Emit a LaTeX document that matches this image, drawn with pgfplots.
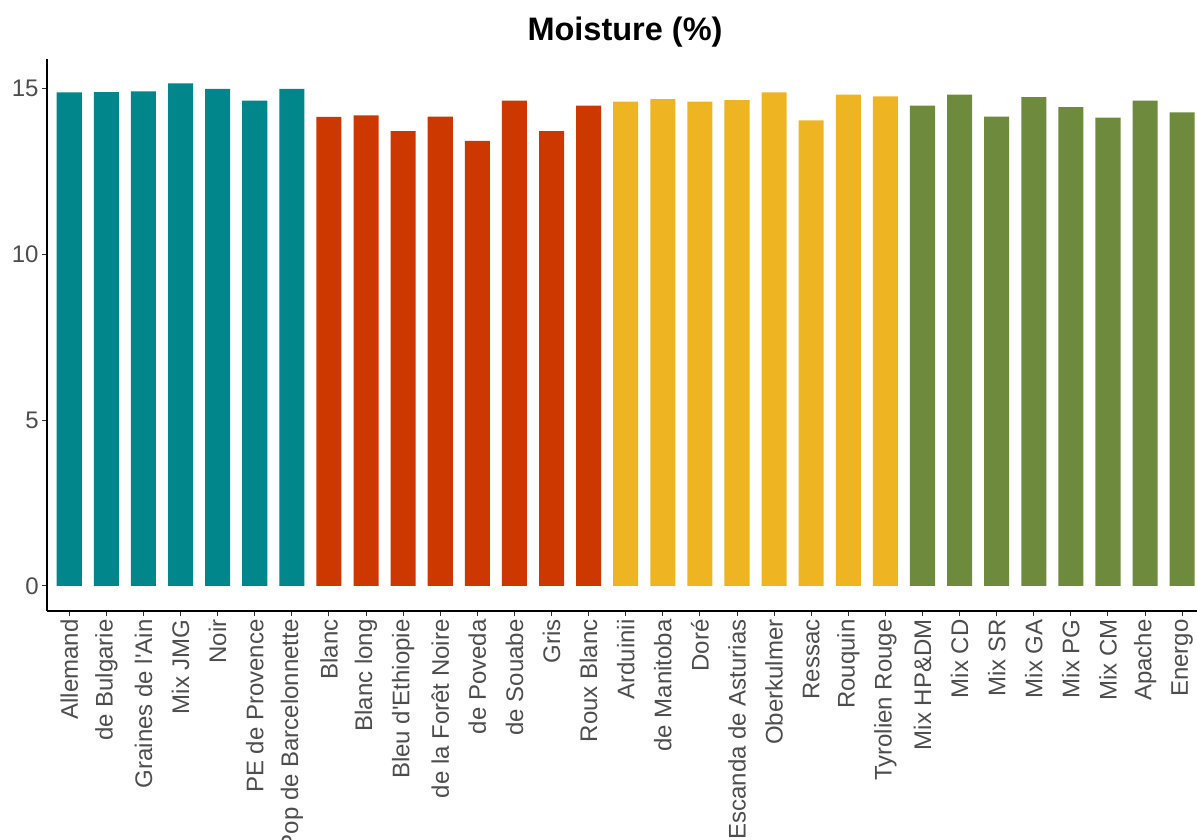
\documentclass[border=0pt]{standalone}
\usepackage{pgfplots}
\pgfplotsset{compat=1.18}
\usepackage{fontspec}
\setmainfont{Liberation Sans}

\definecolor{cteal}{HTML}{00868B}
\definecolor{cred}{HTML}{CD3700}
\definecolor{cyel}{HTML}{EEB422}
\definecolor{cgreen}{HTML}{6E8B3D}
\definecolor{txtgrey}{HTML}{4D4D4D}

\begin{document}
\begin{tikzpicture}
% 1 px of the reference = 0.5pt; axis lower left at px (47,611)
\path[use as bounding box] (-23.5pt,-114pt) rectangle (575pt,305.5pt);
\begin{axis}[
    scale only axis,
    width=575pt, height=276.2pt,
    at={(0,0)}, anchor=south west,
    xmin=-0.6, xmax=30.4,
    ymin=-0.754, ymax=15.9,
    axis x line=bottom, axis y line=left,
    axis line style={-, black, line width=0.6pt},
    ybar, bar shift=0pt, bar width=0.675,
    xtick={0,...,30},
    xticklabels={Allemand, de Bulgarie, Graines de l\textquotesingle Ain, Mix JMG, Noir, PE de Provence, Pop de Barcelonnette,
      Blanc, Blanc long, Bleu d\textquotesingle Ethiopie, de la Forêt Noire, de Poveda, de Souabe, Gris, Roux Blanc,
      Arduinii, de Manitoba, Doré, Escanda de Asturias, Oberkulmer, Ressac, Rouquin, Tyrolien Rouge,
      Mix HP\&DM, Mix CD, Mix SR, Mix GA, Mix PG, Mix CM, Apache, Energo},
    ytick={0,5,10,15},
    tick align=outside,
    major tick length=2.5pt,
    tick style={black!80, line width=0.5pt},
    xticklabel style={rotate=90, anchor=east, font=\fontsize{12}{14}\selectfont, text=txtgrey, inner sep=1.5pt},
    yticklabel style={font=\fontsize{12}{14}\selectfont, text=txtgrey, inner sep=1.5pt},
    /pgf/number format/assume math mode=true,
    clip=false,
]
\addplot[fill=cteal, draw=none] coordinates {
  (0,14.88) (1,14.89) (2,14.91) (3,15.15) (4,14.99) (5,14.63) (6,14.99)};
\addplot[fill=cred, draw=none] coordinates {
  (7,14.14) (8,14.19) (9,13.71) (10,14.15) (11,13.42) (12,14.63) (13,13.71) (14,14.48)};
\addplot[fill=cyel, draw=none] coordinates {
  (15,14.60) (16,14.68) (17,14.60) (18,14.65) (19,14.88) (20,14.04) (21,14.81) (22,14.76)};
\addplot[fill=cgreen, draw=none] coordinates {
  (23,14.48) (24,14.81) (25,14.15) (26,14.74) (27,14.44) (28,14.12) (29,14.63) (30,14.28)};
\end{axis}
\node[font=\fontsize{16.25}{19}\selectfont\bfseries] at (289pt,289.5pt) {Moisture (\%)};
\end{tikzpicture}
\end{document}
